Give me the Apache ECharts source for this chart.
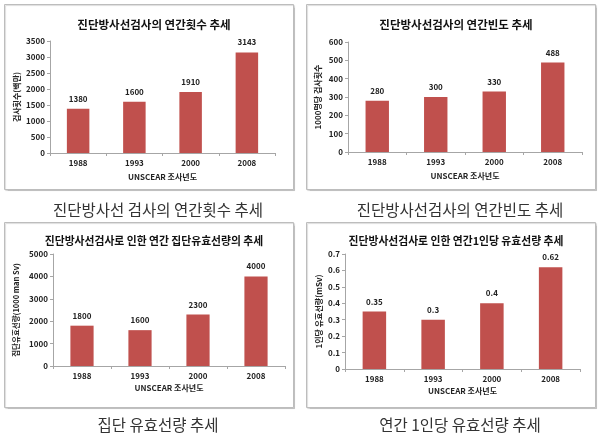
<!DOCTYPE html>
<html><head><meta charset="utf-8">
<script src="https://cdn.jsdelivr.net/npm/echarts@6/dist/echarts.min.js"></script>
<style>html,body{margin:0;padding:0;background:#fff}#c{width:604px;height:435px}</style>
</head><body><div id="c"></div>
<script>
const years = ['1988', '1993', '2000', '2008'];
const counts = [1380, 1600, 1910, 3143];
const freq = [280, 300, 330, 488];
const collective = [1800, 1600, 2300, 4000];
const perCapita = [0.35, 0.3, 0.4, 0.62];

const titles = ['진단방사선검사의 연간횟수 추세', '진단방사선검사의 연간빈도 추세', '진단방사선검사로 인한 연간 집단유효선량의 추세', '진단방사선검사로 인한 연간1인당 유효선량 추세'];
const captions = ['진단방사선 검사의 연간횟수 추세', '진단방사선검사의 연간빈도 추세', '집단 유효선량 추세', '연간 1인당 유효선량 추세'];
const yNames = ['검사횟수(백만)', '1000명당 검사횟수', '집단유효선량(1000 man Sv)', '1인당 유효선량(mSv)'];
const yMax = [3500, 600, 5000, 0.7];
const yInt = [500, 100, 1000, 0.1];
const xName = 'UNSCEAR 조사년도';
const seriesData = [counts, freq, collective, perCapita];

const FONT = '"Noto Sans CJK KR", "Noto Sans", sans-serif';
const grids = [
  {left: 50, right: 329, top: 41, bottom: 282},
  {left: 348, right: 22, top: 42, bottom: 283},
  {left: 53, right: 319, top: 254, bottom: 69},
  {left: 345, right: 24, top: 254, bottom: 66}
];
const boxes = [[4, 4], [306, 4], [4, 222], [306, 222]];
const titleCx = [149, 451, 149, 451];
const titleY = [14, 14, 231, 231];
const capY = [197, 197, 412, 412];
const yNameGap = [29, 26, 33, 22];
const xNameGap = [20, 20, 18, 18];

const option = {
  animation: false,
  textStyle: {fontFamily: FONT},
  title: [],
  graphic: [],
  grid: grids,
  xAxis: [], yAxis: [], series: []
};
for (let i = 0; i < 4; i++) {
  option.graphic.push({type: 'rect', shape: {x: boxes[i][0] + 0.5, y: boxes[i][1] + 0.5, width: 289, height: 185},
    style: {fill: '#fff', stroke: '#bdbdbd', lineWidth: 1, shadowColor: 'rgba(0,0,0,0.15)', shadowOffsetX: 1, shadowOffsetY: 1, shadowBlur: 1}, z: -10});
  option.title.push({text: titles[i], left: titleCx[i], top: titleY[i], textAlign: 'center',
    textStyle: {fontFamily: FONT, fontSize: i < 2 ? 11.5 : 10.8, fontWeight: 'bold', color: '#111'}});
  option.title.push({text: captions[i], left: titleCx[i] + 4, top: capY[i], textAlign: 'center',
    textStyle: {fontFamily: FONT, fontSize: 15.5, fontWeight: 'normal', color: '#333'}});
  option.xAxis.push({type: 'category', gridIndex: i, data: years,
    name: xName, nameLocation: 'middle', nameGap: xNameGap[i],
    nameTextStyle: {fontFamily: FONT, fontSize: 8, fontWeight: 'bold', color: '#222'},
    axisLine: {lineStyle: {color: '#a6a6a6'}},
    axisTick: {show: true, alignWithLabel: false, length: 3, lineStyle: {color: '#a6a6a6'}},
    axisLabel: {fontSize: 8, fontWeight: 'bold', color: '#222', margin: 6}});
  option.yAxis.push({type: 'value', gridIndex: i, min: 0, max: yMax[i], interval: yInt[i],
    name: yNames[i], nameLocation: 'middle', nameGap: yNameGap[i], nameRotate: 90,
    nameTextStyle: {fontFamily: FONT, fontSize: i === 2 ? 7.5 : 8, fontWeight: 'bold', color: '#222'},
    axisLine: {show: true, lineStyle: {color: '#a6a6a6'}},
    axisTick: {show: true, length: 3, lineStyle: {color: '#a6a6a6'}},
    splitLine: {show: false},
    axisLabel: {fontSize: 8, fontWeight: 'bold', color: '#222', margin: 5,
      formatter: function (v) { return String(Math.round(v * 10) / 10); }}});
  option.series.push({type: 'bar', xAxisIndex: i, yAxisIndex: i, data: seriesData[i], barWidth: '40%',
    itemStyle: {color: '#c0504d'},
    label: {show: true, position: 'top', distance: 6, fontSize: 8, fontWeight: 'bold', color: '#222'}});
}
const chart = echarts.init(document.getElementById('c'));
chart.setOption(option);
</script></body></html>
